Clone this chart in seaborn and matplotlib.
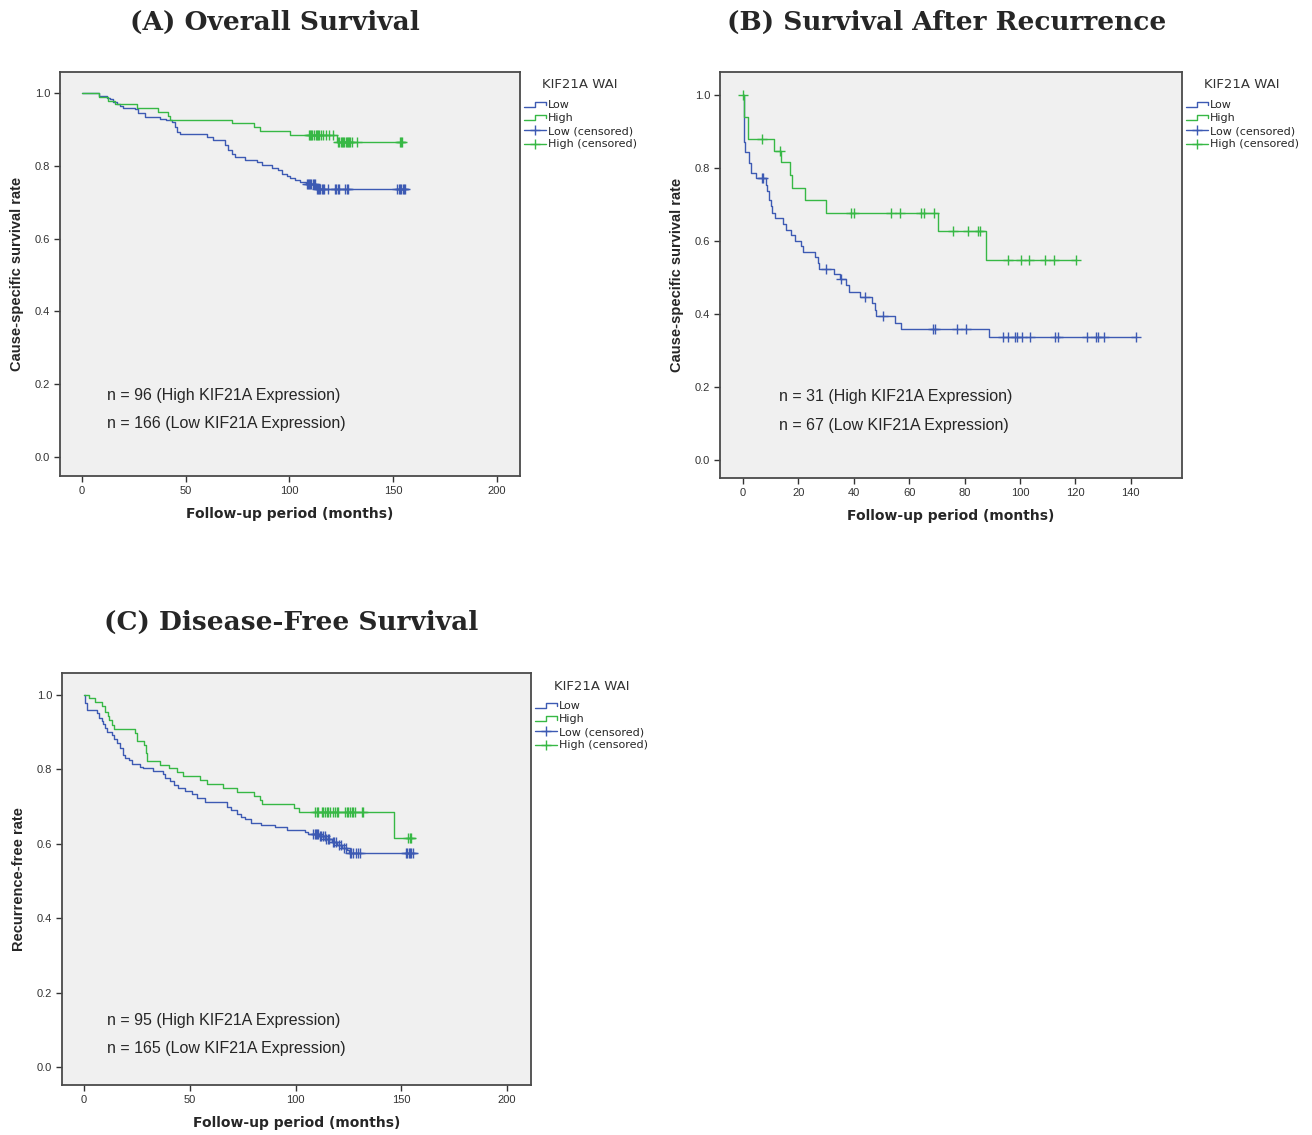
import numpy as np
import matplotlib
matplotlib.use("Agg")
import matplotlib.pyplot as plt
import seaborn as sns
from matplotlib.lines import Line2D
from matplotlib.legend_handler import HandlerBase

BLUE = "#3d5ab3"
GREEN = "#37b845"

# ---- (A) overall survival: step times / survival after step ----
a_low_t = [0, 8.4, 11.9, 13.5, 15.1, 16.7, 18.3, 19.9, 25.5, 27.1, 30.4, 37.6, 40.5,
           43.2, 44.8, 45.6, 47.2, 60.1, 63.3, 68.9, 70.5, 72.1, 73.7, 78.6, 84.2,
           86.6, 91.4, 94.6, 96.2, 98.6, 100.2, 102.7, 105.1, 108.0, 113.0]
a_low_s = [1.0, 0.993, 0.987, 0.983, 0.976, 0.970, 0.965, 0.960, 0.955, 0.946, 0.935,
           0.930, 0.926, 0.921, 0.907, 0.894, 0.887, 0.880, 0.871, 0.857, 0.843, 0.834,
           0.825, 0.816, 0.810, 0.802, 0.795, 0.788, 0.779, 0.773, 0.766, 0.761, 0.755,
           0.749, 0.737]
a_low_end = 157.3
a_low_cens = [108.3, 108.8, 109.4, 110.0, 110.6, 111.2, 111.8, 112.4, 113.1, 113.7,
              114.3, 114.9, 115.5, 116.2, 116.8, 118.6, 122.0, 122.6, 123.3, 124.0,
              126.9, 127.5, 128.2, 152.0, 152.6, 153.2, 153.9, 154.5, 155.2, 155.7]

a_high_t = [0, 8.4, 12.7, 15.9, 26.7, 36.5, 41.3, 42.4, 72.4, 83.0, 85.8, 100.2, 122.7]
a_high_s = [1.0, 0.990, 0.979, 0.969, 0.958, 0.948, 0.937, 0.927, 0.917, 0.906, 0.896,
            0.885, 0.865]
a_high_end = 155.7
a_high_cens = [109.2, 109.8, 110.4, 111.0, 112.0, 112.6, 113.2, 113.8, 114.4, 115.0,
               116.0, 117.5, 119.0, 121.0, 123.5, 124.0, 124.6, 125.2, 125.8, 126.4,
               127.0, 127.6, 128.2, 128.8, 129.4, 130.0, 132.4, 153.2, 153.8, 154.4]

# ---- (B) survival after recurrence ----
b_low_t = [0, 0.2, 0.4, 0.5, 0.8, 2.3, 2.9, 4.6, 8.2, 8.6, 9.5, 10.1, 10.6, 11.6, 14.3,
           15.5, 17.2, 18.8, 20.8, 21.8, 26.0, 27.2, 27.6, 32.9, 35.0, 37.2, 38.4, 42.2,
           46.5, 47.7, 48.0, 54.9, 57.0, 88.9]
b_low_s = [1.0, 0.94, 0.90, 0.872, 0.845, 0.813, 0.785, 0.772, 0.753, 0.738, 0.712,
           0.695, 0.678, 0.662, 0.648, 0.630, 0.616, 0.601, 0.586, 0.571, 0.555, 0.539,
           0.524, 0.510, 0.495, 0.479, 0.461, 0.446, 0.429, 0.412, 0.395, 0.376, 0.358,
           0.336]
b_low_end = 141.9
b_low_cens = [6.7, 7.3, 30.0, 35.4, 44.0, 50.4, 68.7, 69.3, 77.1, 80.5, 94.0, 95.8, 98.2,
              98.8, 100.6, 103.6, 112.6, 113.8, 124.3, 127.4, 128.3, 130.4, 141.9]

b_high_t = [0, 0.5, 1.7, 11.2, 13.8, 17.0, 17.8, 22.4, 30.0, 70.5, 87.6]
b_high_s = [1.0, 0.941, 0.879, 0.847, 0.817, 0.781, 0.746, 0.712, 0.678, 0.627, 0.548]
b_high_end = 120.1
b_high_cens = [0.0, 6.7, 13.5, 39.0, 40.2, 53.4, 56.7, 64.3, 65.3, 69.0, 75.7, 81.3, 85.0,
               85.6, 95.5, 100.4, 103.4, 109.0, 112.3, 120.1]

# ---- (C) disease-free survival ----
c_low_t = [0, 0.3, 0.6, 1.6, 6.0, 7.2, 8.4, 9.1, 9.9, 11.0, 13.1, 14.3, 15.7, 17.0, 18.3,
           19.4, 21.4, 22.5, 26.5, 28.0, 32.8, 37.2, 38.3, 40.7, 42.6, 44.6, 47.8, 50.9,
           53.3, 57.2, 67.5, 69.5, 72.2, 74.1, 76.1, 78.8, 83.5, 90.3, 95.8, 104.5, 106.0,
           111.0, 114.0, 117.0, 119.5, 122.0, 124.5, 125.3]
c_low_s = [1.0, 0.988, 0.978, 0.960, 0.951, 0.937, 0.929, 0.921, 0.910, 0.900, 0.892,
           0.882, 0.870, 0.857, 0.839, 0.831, 0.824, 0.815, 0.807, 0.803, 0.796, 0.788,
           0.776, 0.769, 0.758, 0.749, 0.742, 0.733, 0.722, 0.713, 0.700, 0.691, 0.680,
           0.671, 0.666, 0.657, 0.651, 0.644, 0.638, 0.633, 0.626, 0.620, 0.613, 0.606,
           0.598, 0.590, 0.583, 0.576]
c_low_end = 157.3
c_low_cens = [108.4, 109.0, 109.6, 110.2, 110.8, 111.5, 112.2, 113.0, 113.8, 114.5, 115.3,
              116.0, 117.5, 118.3, 119.0, 120.5, 121.5, 123.0, 123.8, 125.6, 126.2, 127.0,
              128.8, 129.5, 130.3, 152.0, 152.7, 153.4, 154.1, 154.8, 155.5]

c_high_t = [0, 2.5, 5.2, 8.7, 9.9, 11.2, 11.8, 13.1, 14.2, 24.1, 24.9, 28.4, 29.3, 29.9,
            35.9, 40.3, 44.1, 47.0, 54.8, 58.0, 65.9, 72.5, 80.4, 83.2, 84.0, 99.3, 101.6,
            146.6]
c_high_s = [1.0, 0.991, 0.982, 0.969, 0.955, 0.944, 0.933, 0.919, 0.908, 0.897, 0.876,
            0.866, 0.845, 0.823, 0.812, 0.803, 0.792, 0.782, 0.772, 0.761, 0.749, 0.738,
            0.728, 0.718, 0.707, 0.695, 0.686, 0.617]
c_high_end = 156.5
c_high_cens = [109.2, 110.0, 110.8, 112.4, 113.2, 113.9, 114.7, 115.5, 116.3, 117.9, 118.7,
               119.5, 120.2, 123.4, 124.2, 125.0, 125.8, 126.6, 127.3, 128.1, 131.3, 132.1,
               153.3, 154.1, 154.8]

titles = ["(A) Overall Survival", "(B) Survival After Recurrence", "(C) Disease-Free Survival"]
ylabels = ["Cause-specific survival rate", "Cause-specific survival rate", "Recurrence-free rate"]
n_high = [96, 31, 95]
n_low = [166, 67, 165]
legend_title = "KIF21A WAI"
legend_labels = ["Low", "High", "Low (censored)", "High (censored)"]

sns.set_style("ticks")
plt.rcParams["font.family"] = ["Liberation Sans", "DejaVu Sans"]


class StepHandler(HandlerBase):
    # little step glyph like the SPSS legend
    def create_artists(self, legend, orig_handle, xdescent, ydescent, width, height,
                       fontsize, trans):
        x0, y0 = -xdescent, -ydescent
        xs = [x0, x0 + 0.5 * width, x0 + 0.5 * width, x0 + width, x0 + width]
        ys = [y0 + 0.1 * height, y0 + 0.1 * height, y0 + 0.8 * height,
              y0 + 0.8 * height, y0 + 0.35 * height]
        ln = Line2D(xs, ys, color=orig_handle.get_color(), lw=orig_handle.get_linewidth())
        ln.set_transform(trans)
        return [ln]


def draw_km(ax, t, s, end, cens, color):
    tt = list(t) + [end]
    ss = list(s) + [s[-1]]
    sns.lineplot(x=tt, y=ss, drawstyle="steps-post", estimator=None, sort=False,
                 color=color, linewidth=1.0, ax=ax)
    idx = np.searchsorted(t, cens, side="right") - 1
    cy = np.asarray(s)[idx]
    sns.scatterplot(x=cens, y=cy, marker="+", s=45, color=color, linewidth=1.0,
                    ax=ax, zorder=3)


fig = plt.figure(figsize=(13.12, 11.35), dpi=100)

# axes boxes in pixels: left, top, right, bottom
boxes = [(60, 72, 520, 476), (720, 72, 1182, 478), (62, 673, 531, 1085)]
xlims = [(-10.6, 211.1), (-8.3, 158.5), (-10.4, 211.3)]
ylims = [(-0.052, 1.058), (-0.049, 1.063), (-0.048, 1.059)]
xticks = [np.arange(0, 201, 50), np.arange(0, 141, 20), np.arange(0, 201, 50)]
title_pos = [(275, 22), (947, 22), (291, 622)]
n_pos = [(12.0, 0.168, 0.091), (13.0, 0.173, 0.096), (10.9, 0.126, 0.051)]

panels = [
    (a_low_t, a_low_s, a_low_end, a_low_cens, a_high_t, a_high_s, a_high_end, a_high_cens),
    (b_low_t, b_low_s, b_low_end, b_low_cens, b_high_t, b_high_s, b_high_end, b_high_cens),
    (c_low_t, c_low_s, c_low_end, c_low_cens, c_high_t, c_high_s, c_high_end, c_high_cens),
]

W, H = 1312, 1135
for i, p in enumerate(panels):
    l, t_, r, b = boxes[i]
    ax = fig.add_axes([l / W, 1 - b / H, (r - l) / W, (b - t_) / H])
    ax.set_facecolor("#f0f0f0")
    draw_km(ax, p[0], p[1], p[2], p[3], BLUE)
    draw_km(ax, p[4], p[5], p[6], p[7], GREEN)
    ax.set_xlim(*xlims[i])
    ax.set_ylim(*ylims[i])
    ax.set_xticks(xticks[i])
    ax.set_yticks(np.arange(0, 1.01, 0.2))
    ax.set_yticklabels([f"{v:.1f}" for v in np.arange(0, 1.01, 0.2)])
    ax.tick_params(labelsize=8, colors="#333333", length=4, width=1, pad=3)
    for sp in ax.spines.values():
        sp.set_visible(True)
        sp.set_color("#4a4a4a")
        sp.set_linewidth(1.3)
    ax.set_xlabel("Follow-up period (months)", fontsize=10, fontweight="bold",
                  family="DejaVu Sans", labelpad=8)
    ax.set_ylabel(ylabels[i], fontsize=10.5, fontweight="bold", labelpad=8)

    nx, ny1, ny2 = n_pos[i]
    ax.text(nx, ny1, f"n = {n_high[i]} (High KIF21A Expression)", fontsize=11.5, va="center")
    ax.text(nx, ny2, f"n = {n_low[i]} (Low KIF21A Expression)", fontsize=11.5, va="center")

    h_low = Line2D([], [], color=BLUE, lw=1.0)
    h_high = Line2D([], [], color=GREEN, lw=1.0)
    h_lc = Line2D([], [], color=BLUE, lw=1.0, marker="+", markersize=7)
    h_hc = Line2D([], [], color=GREEN, lw=1.0, marker="+", markersize=7)
    ytop = (b - (t_ + 27)) / (b - t_)
    ax.legend([h_low, h_high, h_lc, h_hc], legend_labels,
              handler_map={h_low: StepHandler(), h_high: StepHandler()},
              loc="upper left", bbox_to_anchor=(1.006, ytop), frameon=False,
              prop={"family": "DejaVu Sans", "size": 8},
              handlelength=2.0, handletextpad=0.15, labelspacing=0.28,
              borderaxespad=0.1, borderpad=0.0)
    ax.text(1.13, (b - (t_ + 13)) / (b - t_), legend_title, transform=ax.transAxes,
            ha="center", va="center", fontsize=9.5, family="DejaVu Sans", color="#333333")

    tx, ty = title_pos[i]
    fig.text(tx / W, 1 - ty / H, titles[i], ha="center", va="center",
             fontsize=19, fontweight="bold", family="DejaVu Serif")

fig.savefig("out.png", dpi=100, facecolor="white")
